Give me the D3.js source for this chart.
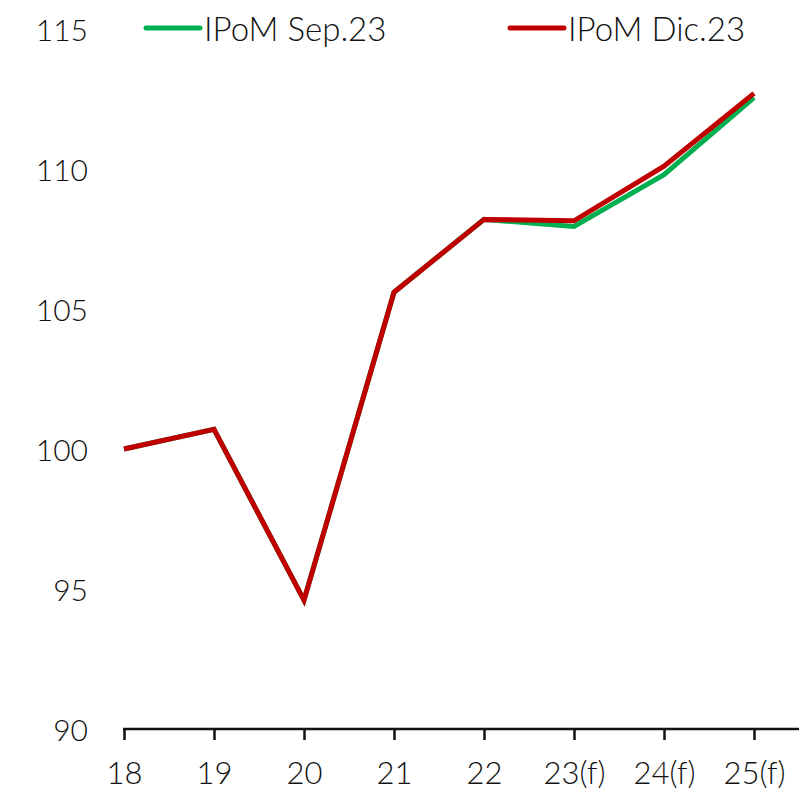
<!DOCTYPE html>
<html>
<head>
<meta charset="utf-8">
<script src="https://cdn.jsdelivr.net/npm/d3@7"></script>
<style>
  html, body { margin: 0; padding: 0; background: #fff; }
  svg { display: block; }
  text { font-family: Lato, "Open Sans", sans-serif; font-weight: 300; fill: #111; }
</style>
</head>
<body>
<svg id="chart" width="807" height="795"></svg>
<script>
// Index values (2018 = 100), by year
const categories = ["18", "19", "20", "21", "22", "23(f)", "24(f)", "25(f)"];
const ipomSep23 = [100, 100.7, 94.6, 105.6, 108.2, 107.95, 109.8, 112.55];
const ipomDic23 = [100, 100.7, 94.6, 105.6, 108.2, 108.15, 110.1, 112.7];
const yTicks = [90, 95, 100, 105, 110, 115];
const seriesNames = ["IPoM Sep.23", "IPoM Dic.23"];
const seriesColors = ["#00B050", "#C00000"];

const svg = d3.select("#chart");

const x = d3.scalePoint().domain(categories).range([124, 754]);
const y = d3.scaleLinear().domain([90, 115]).range([729, 29]);

// Y labels (no axis line)
svg.append("g")
  .selectAll("text")
  .data(yTicks)
  .join("text")
  .attr("x", 88)
  .attr("y", d => y(d))
  .attr("text-anchor", "end")
  .attr("dominant-baseline", "central")
  .style("font-size", "30px")
  .text(d => d);

// X axis
const xAxis = d3.axisBottom(x).tickSize(11).tickPadding(22).tickSizeOuter(0);
const gx = svg.append("g")
  .attr("transform", `translate(0,${y(90)})`)
  .call(xAxis);
gx.select(".domain").remove();
gx.append("line")
  .attr("x1", 123).attr("x2", 799)
  .attr("stroke", "#111").attr("stroke-width", 2.5);
gx.selectAll(".tick line").attr("stroke", "#111").attr("stroke-width", 2.5);
gx.selectAll(".tick text")
  .attr("fill", "#111")
  .style("font-family", "Lato, 'Open Sans', sans-serif")
  .style("font-weight", "300")
  .style("font-size", "31px");

// Lines
const line = d3.line()
  .x((d, i) => x(categories[i]))
  .y(d => y(d));

[ipomSep23, ipomDic23].forEach((vals, k) => {
  svg.append("path")
    .datum(vals)
    .attr("d", line)
    .attr("fill", "none")
    .attr("stroke", seriesColors[k])
    .attr("stroke-width", 5)
    .attr("stroke-linejoin", "miter")
    .attr("stroke-linecap", "butt");
});

// Legend
const legendX = [146, 510];
seriesNames.forEach((name, k) => {
  const g = svg.append("g").attr("transform", `translate(${legendX[k]},28)`);
  g.append("line")
    .attr("x1", 0).attr("x2", 54)
    .attr("stroke", seriesColors[k])
    .attr("stroke-width", 5)
    .attr("stroke-linecap", "round");
  g.append("text")
    .attr("x", 58)
    .attr("y", 0)
    .attr("dominant-baseline", "central")
    .style("font-size", "33px")
    .text(name);
});
</script>
</body>
</html>
